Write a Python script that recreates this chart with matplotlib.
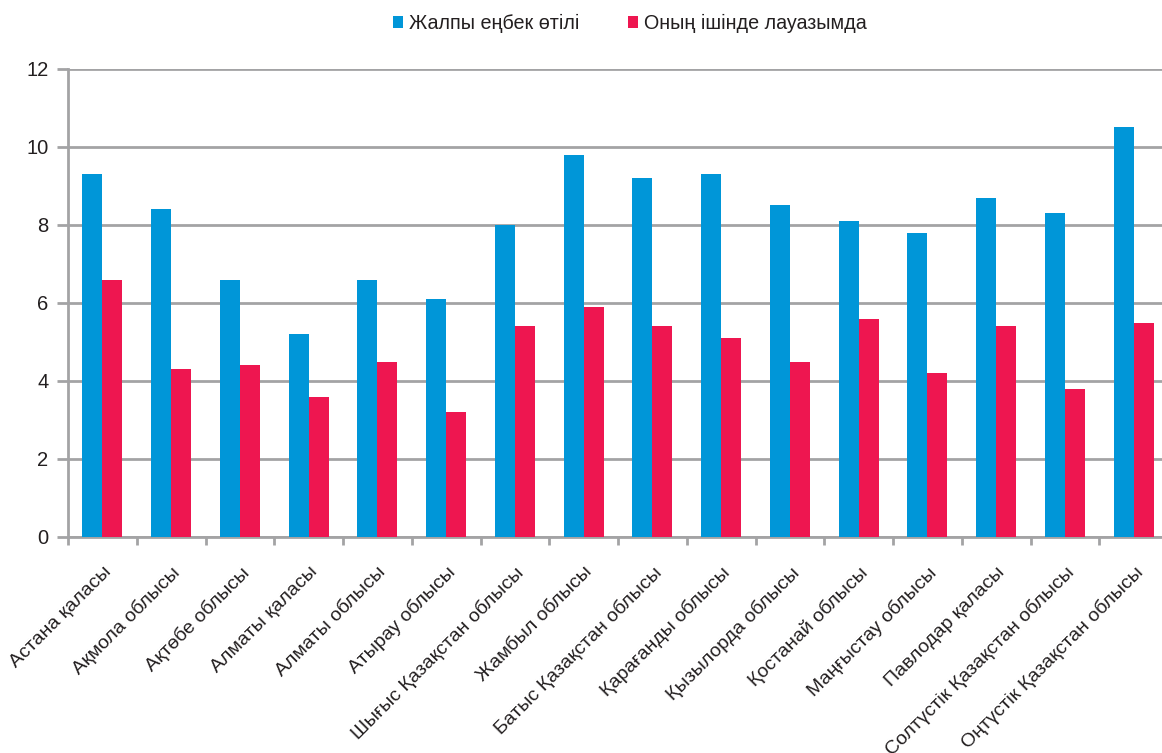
import matplotlib
matplotlib.use("Agg")
import matplotlib.pyplot as plt
import numpy as np

plt.rcParams['font.family'] = ['Liberation Sans', 'DejaVu Sans']

regions = [
    "Астана қаласы", "Ақмола облысы", "Ақтөбе облысы", "Алматы қаласы",
    "Алматы облысы", "Атырау облысы", "Шығыс Қазақстан облысы", "Жамбыл облысы",
    "Батыс Қазақстан облысы", "Қарағанды облысы", "Қызылорда облысы",
    "Қостанай облысы", "Маңғыстау облысы", "Павлодар қаласы",
    "Солтүстік Қазақстан облысы", "Оңтүстік Қазақстан облысы",
]
total_exp = [9.3, 8.4, 6.6, 5.2, 6.6, 6.1, 8.0, 9.8, 9.2, 9.3, 8.5, 8.1, 7.8, 8.7, 8.3, 10.5]
position_exp = [6.6, 4.3, 4.4, 3.6, 4.5, 3.2, 5.4, 5.9, 5.4, 5.1, 4.5, 5.6, 4.2, 5.4, 3.8, 5.5]
series_names = ["Жалпы еңбек өтілі", "Оның ішінде лауазымда"]

blue = "#0096d8"
pink = "#ee1650"
grid_c = "#a3a3a5"
text_c = "#231f20"

fig = plt.figure(figsize=(11.62, 7.53), dpi=100)
ax = fig.add_axes([68 / 1162, 216 / 753, 1100 / 1162, 468 / 753])

x = np.arange(len(regions))
w = 0.29
ax.bar(x - w / 2, total_exp, w, color=blue, label=series_names[0], zorder=3)
ax.bar(x + w / 2, position_exp, w, color=pink, label=series_names[1], zorder=3)

ax.set_xlim(-0.5, len(regions) - 0.5)
ax.set_ylim(0, 12)
ax.set_yticks(range(0, 13, 2))
ax.yaxis.grid(True, color=grid_c, linewidth=2, zorder=0)
ax.set_axisbelow(True)

for s in ["top", "right"]:
    ax.spines[s].set_visible(False)
for s in ["left", "bottom"]:
    ax.spines[s].set_color(grid_c)
    ax.spines[s].set_linewidth(2)

ax.tick_params(axis="y", length=8, width=2, color=grid_c, labelsize=14.5,
               labelcolor=text_c, pad=6)
ax.set_xticks(x)
ax.set_xticklabels(regions, rotation=45, ha="right", rotation_mode="anchor",
                   fontsize=14, color=text_c)
ax.tick_params(axis="x", which="major", length=0, pad=19)
ax.set_xticks(np.arange(-0.5, len(regions), 1.0), minor=True)
ax.tick_params(axis="x", which="minor", length=6, width=2, color=grid_c)

fig.legend(loc="upper center", bbox_to_anchor=(0.542, 1.005), ncol=2,
           frameon=False, fontsize=14.2, handlelength=0.5, handleheight=0.5,
           columnspacing=2.5, handletextpad=0.3, labelcolor=text_c)

fig.savefig("out.png", dpi=100)
